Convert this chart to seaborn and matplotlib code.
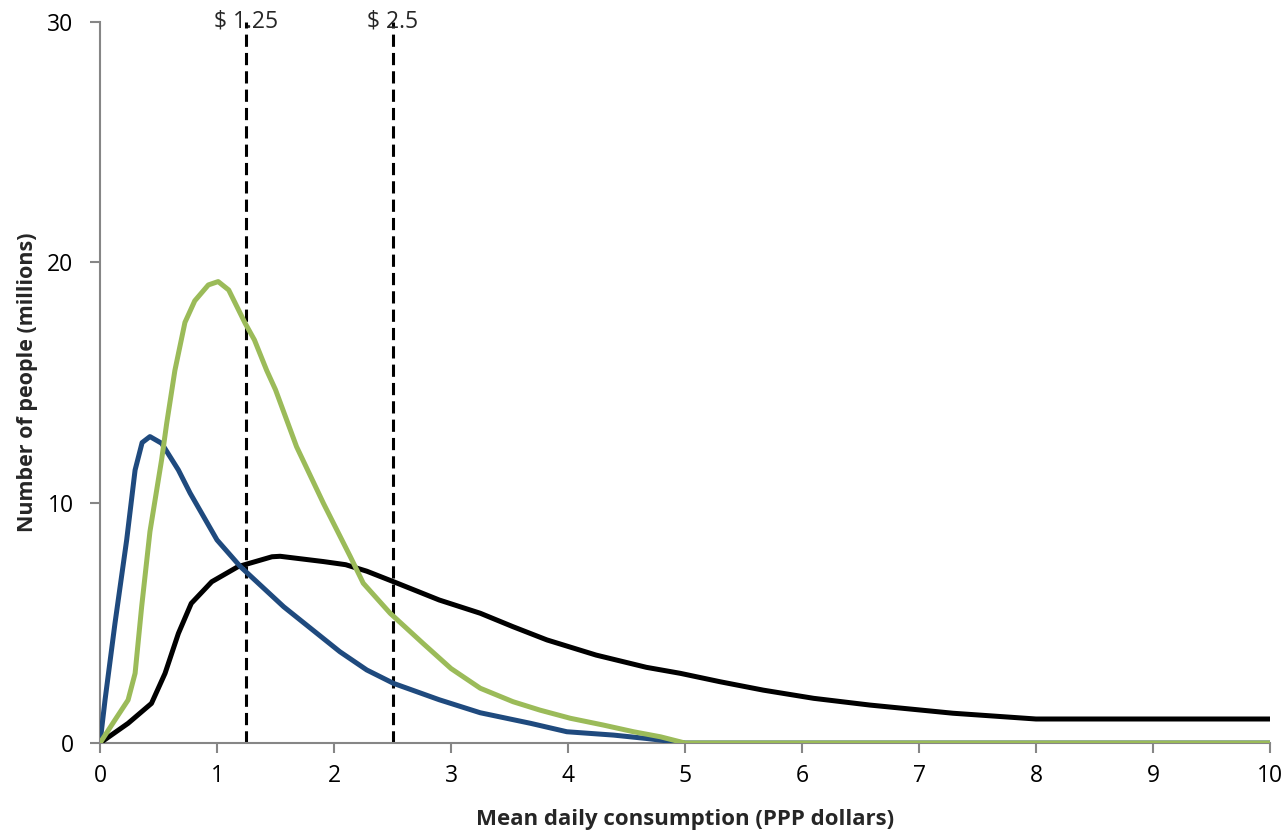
import numpy as np
import pandas as pd
import seaborn as sns
from matplotlib import pyplot as plt

# values
blue_x = [0, 0.043, 0.128, 0.228, 0.3, 0.36, 0.427, 0.527, 0.67, 0.77, 1.0, 1.2, 1.57,
          2.05, 2.28, 2.51, 2.9, 3.25, 3.68, 3.99, 4.39, 4.67, 5.0, 10]
blue_y = [0, 1.79, 4.98, 8.45, 11.36, 12.5, 12.75, 12.47, 11.36, 10.4, 8.45, 7.34, 5.67,
          3.8, 3.04, 2.48, 1.8, 1.26, 0.82, 0.47, 0.33, 0.19, 0, 0]

green_x = [0, 0.128, 0.24, 0.3, 0.356, 0.427, 0.527, 0.57, 0.64, 0.726, 0.81, 0.926,
           1.01, 1.10, 1.24, 1.32, 1.425, 1.50, 1.68, 1.91, 2.14, 2.25, 2.48, 2.76,
           3.0, 3.25, 3.53, 3.76, 4.02, 4.30, 4.56, 4.79, 5.0, 10]
green_y = [0, 0.96, 1.79, 2.9, 5.67, 8.8, 11.8, 13.3, 15.5, 17.5, 18.4, 19.06,
           19.2, 18.85, 17.47, 16.77, 15.5, 14.7, 12.33, 9.97, 7.75, 6.65, 5.4, 4.15,
           3.1, 2.28, 1.72, 1.37, 1.03, 0.75, 0.47, 0.26, 0, 0]

black_x = [0, 0.24, 0.44, 0.556, 0.67, 0.78, 0.955, 1.18, 1.47, 1.54, 1.91, 2.1, 2.28, 2.51,
           2.9, 3.25, 3.53, 3.82, 4.24, 4.67, 4.96, 5.30, 5.67, 6.1, 6.58, 7.29, 8.0, 9, 10]
black_y = [0, 0.82, 1.65, 2.9, 4.56, 5.81, 6.71, 7.34, 7.75, 7.77, 7.55, 7.42, 7.15, 6.71,
           5.95, 5.4, 4.84, 4.29, 3.66, 3.15, 2.9, 2.55, 2.2, 1.86, 1.58, 1.24, 1.0, 1.0, 1.0]

poverty_lines = [1.25, 2.5]
poverty_labels = ["$ 1.25", "$ 2.5"]

df = pd.concat([
    pd.DataFrame({"x": black_x, "y": black_y, "series": "black"}),
    pd.DataFrame({"x": blue_x, "y": blue_y, "series": "blue"}),
    pd.DataFrame({"x": green_x, "y": green_y, "series": "green"}),
])
colors = {"black": "#000000", "blue": "#1F4A7E", "green": "#9BBB59"}

sns.set_style("white")
plt.rcParams["font.family"] = ["Open Sans", "DejaVu Sans"]

fig = plt.figure(figsize=(12.87, 8.33), dpi=100)
ax = fig.add_axes([0.0777, 0.108, 0.9091, 0.8656])

for xv, lab in zip(poverty_lines, poverty_labels):
    ax.vlines(xv, 0, 30, colors="black", linestyles=(0, (4, 2)), linewidth=2.2, zorder=1)
    ax.text(xv, 30, lab, ha="center", va="center", fontsize=16.5, clip_on=False, zorder=5)

sns.lineplot(data=df, x="x", y="y", hue="series", palette=colors, sort=False,
             estimator=None, linewidth=3.6, legend=False, ax=ax, zorder=3)

ax.set_xlim(0, 10)
ax.set_ylim(0, 30)
ax.set_xticks(np.arange(0, 11, 1))
ax.set_yticks([0, 10, 20, 30])
ax.set_xlabel("Mean daily consumption (PPP dollars)", fontsize=16, fontweight="bold", labelpad=15)
ax.set_ylabel("Number of people (millions)", fontsize=15.5, fontweight="bold", labelpad=7)

for s in ["top", "right"]:
    ax.spines[s].set_visible(False)
for s in ["left", "bottom"]:
    ax.spines[s].set_color("#868686")
    ax.spines[s].set_linewidth(1.5)
ax.tick_params(axis="both", direction="out", length=7, width=1.5, color="#868686",
               labelsize=16.5, labelcolor="black", left=True, bottom=True)
ax.tick_params(axis="x", pad=8)
ax.tick_params(axis="y", pad=12)

fig.savefig("out.png", dpi=100)
